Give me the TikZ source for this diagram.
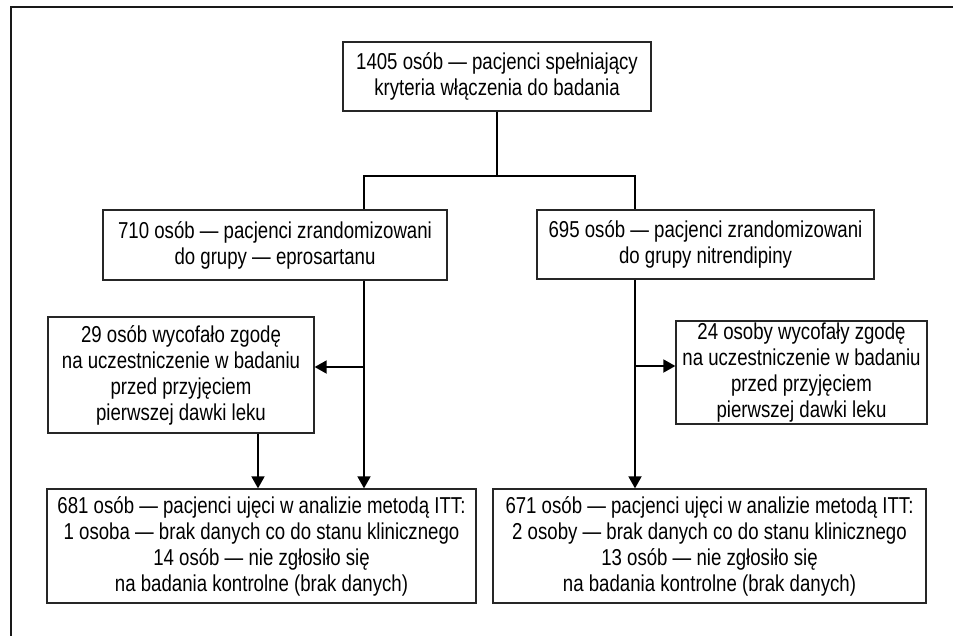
\documentclass[tikz,border=0pt]{standalone}
\usepackage{fontspec}
\setmainfont[FakeStretch=0.81]{Liberation Sans}
\usetikzlibrary{arrows.meta}
\begin{document}
\begin{tikzpicture}[x=1pt,y=-1pt,
  box/.style={draw=black!85,line width=1.3pt,align=center,inner sep=0pt,
    font=\fontsize{23}{26}\selectfont},
  link/.style={line width=1.8pt,black},
  arr/.style={link,-{Triangle[length=12pt,width=13pt]}}]
\useasboundingbox (0,0) rectangle (953,635);
\draw[line width=2pt,black!90] (11,636) -- (11,7) -- (954,7);
\node[box,minimum width=308pt,minimum height=69pt] (top) at (497,76.5)
  {1405 osób — pacjenci spełniający\\kryteria włączenia do badania};
\node[box,minimum width=344pt,minimum height=70pt] (b2l) at (275,245)
  {710 osób — pacjenci zrandomizowani\\do grupy — eprosartanu};
\node[box,minimum width=337pt,minimum height=69pt] (b2r) at (705.5,244.5)
  {695 osób — pacjenci zrandomizowani\\do grupy nitrendipiny};
\node[box,minimum width=266pt,minimum height=116pt] (b3l) at (181,375)
  {29 osób wycofało zgodę\\na uczestniczenie w badaniu\\przed przyjęciem\\pierwszej dawki leku};
\node[box,minimum width=251pt,minimum height=103pt] (b3r) at (801.5,372.5)
  {24 osoby wycofały zgodę\\na uczestniczenie w badaniu\\przed przyjęciem\\pierwszej dawki leku};
\node[box,minimum width=429pt,minimum height=114pt] (b4l) at (261.5,546)
  {681 osób — pacjenci ujęci w analizie metodą ITT:\\1 osoba — brak danych co do stanu klinicznego\\14 osób — nie zgłosiło się\\na badania kontrolne (brak danych)};
\node[box,minimum width=433pt,minimum height=114pt] (b4r) at (709.5,546)
  {671 osób — pacjenci ujęci w analizie metodą ITT:\\2 osoby — brak danych co do stanu klinicznego\\13 osób — nie zgłosiło się\\na badania kontrolne (brak danych)};
\coordinate (jl) at (364,176);
\coordinate (jr) at (635,176);
\coordinate (bl) at (364,367);
\coordinate (br) at (635,366);
\coordinate (kl) at (258,433);
\draw[link] (top.south) -- (top.south |- jl);
\draw[link] (jl |- b2l.north) -- (jl) -- (jr) -- (jr |- b2r.north);
\draw[arr] (jl |- b2l.south) -- (jl |- b4l.north);
\draw[arr] (bl) -- (bl -| b3l.east);
\draw[arr] (jr |- b2r.south) -- (jr |- b4r.north);
\draw[arr] (br) -- (br -| b3r.west);
\draw[arr] (kl |- b3l.south) -- (kl |- b4l.north);
\end{tikzpicture}
\end{document}
